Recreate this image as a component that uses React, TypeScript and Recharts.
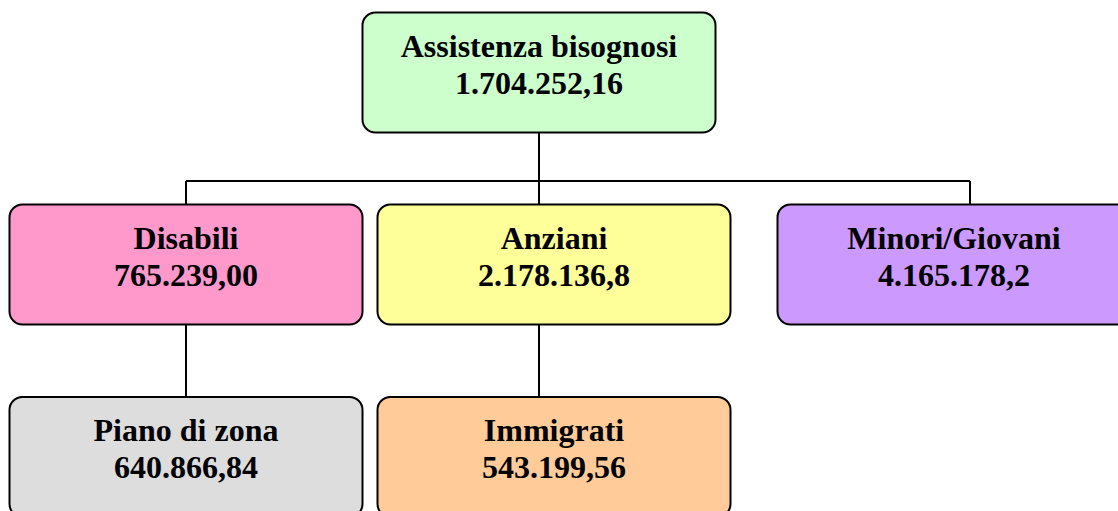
import React from 'react';
import { ScatterChart, Scatter, XAxis, YAxis, ReferenceLine } from 'recharts';

// ---- data ----
const names = ['Assistenza bisognosi', 'Disabili', 'Anziani', 'Minori/Giovani', 'Piano di zona', 'Immigrati'];
const amounts = [1704252.16, 765239.0, 2178136.8, 4165178.2, 640866.84, 543199.56];
const decimals = [2, 2, 1, 1, 2, 2];
const levels = [0, 1, 1, 1, 2, 2];
const parents = [-1, 0, 0, 0, 1, 2];

// ---- layout / style ----
const W = 1118;
const H = 511;
const BOX_W = 353;
const BOX_H = 120;
const nodeCenterX = [539, 186, 554, 954, 186, 554];
const connectorX = [539, 186, 539, 970, 186, 539];
const levelTop = [12.5, 204.5, 397];
const BUS_Y = 181;
const fills = ['#CCFFCC', '#FF99CC', '#FFFF99', '#CC99FF', '#DDDDDD', '#FFCC99'];
const FONT = '"Liberation Serif", "Times New Roman", serif';

function fmt(v: number, d: number): string {
  const [i, f] = v.toFixed(d).split('.');
  return i.replace(/\B(?=(\d{3})+(?!\d))/g, '.') + (f ? ',' + f : '');
}

const nodes = names.map((name, i) => ({
  name,
  label: fmt(amounts[i], decimals[i]),
  x: nodeCenterX[i],
  y: levelTop[levels[i]] + BOX_H / 2,
  fill: fills[i],
}));

const NodeShape = (props: any) => {
  const { cx, cy, payload } = props;
  if (cx == null || cy == null) return null;
  const top = cy - BOX_H / 2;
  return (
    <g>
      <rect
        x={cx - BOX_W / 2}
        y={top}
        width={BOX_W}
        height={BOX_H}
        rx={13}
        ry={13}
        fill={payload.fill}
        stroke="#000"
        strokeWidth={2}
      />
      <text x={cx} y={top + 44} textAnchor="middle" fontFamily={FONT} fontWeight="bold" fontSize={32} fill="#000">
        {payload.name}
      </text>
      <text x={cx} y={top + 81} textAnchor="middle" fontFamily={FONT} fontWeight="bold" fontSize={32} fill="#000">
        {payload.label}
      </text>
    </g>
  );
};

// connector segments (in data units)
type Seg = [{ x: number; y: number }, { x: number; y: number }];
const segments: Seg[] = [];
const parentIdx = Array.from(new Set(parents.filter((p) => p >= 0)));
parentIdx.forEach((p) => {
  const kids = parents.map((pp, i) => (pp === p ? i : -1)).filter((i) => i >= 0);
  const pBottom = levelTop[levels[p]] + BOX_H;
  if (kids.length === 1) {
    const k = kids[0];
    segments.push([{ x: connectorX[k], y: pBottom }, { x: connectorX[k], y: levelTop[levels[k]] }]);
  } else {
    segments.push([{ x: connectorX[p], y: pBottom }, { x: connectorX[p], y: BUS_Y }]);
    const xs = kids.map((k) => connectorX[k]);
    segments.push([{ x: Math.min(...xs), y: BUS_Y }, { x: Math.max(...xs), y: BUS_Y }]);
    kids.forEach((k) => {
      segments.push([{ x: connectorX[k], y: BUS_Y }, { x: connectorX[k], y: levelTop[levels[k]] }]);
    });
  }
});

export default function App() {
  return (
    <div style={{ position: 'absolute', left: 0, top: 0, width: W, height: H, background: '#fff' }}>
      <ScatterChart width={W} height={H} margin={{ top: 0, right: 0, bottom: 0, left: 0 }}>
        <XAxis type="number" dataKey="x" domain={[0, W]} hide allowDataOverflow />
        <YAxis type="number" dataKey="y" domain={[0, H]} hide reversed width={0} allowDataOverflow />
        {segments.map((s, i) => (
          <ReferenceLine key={i} segment={s} stroke="#000" strokeWidth={2} ifOverflow="visible" />
        ))}
        <Scatter data={nodes} shape={NodeShape} isAnimationActive={false} />
      </ScatterChart>
    </div>
  );
}
